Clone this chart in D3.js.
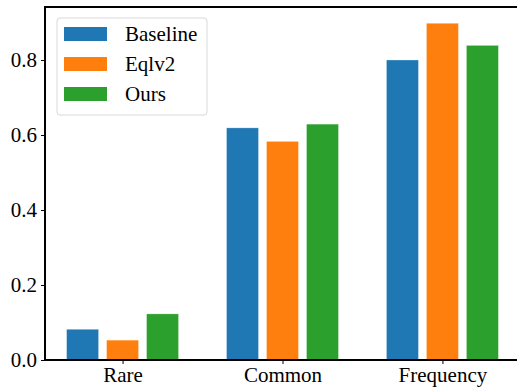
<!DOCTYPE html>
<html>
<head>
<meta charset="utf-8">
<script src="https://cdn.jsdelivr.net/npm/d3@7"></script>
<style>
  body { margin: 0; background: #fff; }
</style>
</head>
<body>
<div id="chart"></div>
<script>
const categories = ["Rare", "Common", "Frequency"];
const seriesNames = ["Baseline", "Eqlv2", "Ours"];
const baseline = [0.082, 0.619, 0.800];
const eqlv2 = [0.053, 0.583, 0.898];
const ours = [0.123, 0.629, 0.839];
const yTicks = [0.0, 0.2, 0.4, 0.6, 0.8];

const colors = ["#1f77b4", "#ff7f0e", "#2ca02c"];
const series = [baseline, eqlv2, ours];
const FONT = "Liberation Serif";

const W = 517, H = 391;
const margin = { top: 7, right: -3, bottom: 31, left: 45 };
const width = W - margin.left - margin.right;
const height = H - margin.top - margin.bottom;

const svg = d3.select("#chart").append("svg")
  .attr("width", W)
  .attr("height", H)
  .style("font-family", FONT);

const g = svg.append("g")
  .attr("transform", `translate(${margin.left},${margin.top})`);

// numeric x like matplotlib: categories at 0,1,2; bars of width 0.2 offset by 0.25
const x = d3.scaleLinear().domain([-0.485, 2.485]).range([0, width]);
const y = d3.scaleLinear().domain([0, 0.9413]).range([height, 0]);
const barW = 0.2;
const offsets = [-0.25, 0, 0.25];

series.forEach((vals, si) => {
  g.selectAll(".bar" + si)
    .data(vals)
    .enter().append("rect")
    .attr("x", (d, i) => x(i + offsets[si] - barW / 2))
    .attr("width", x(barW) - x(0))
    .attr("y", d => y(d))
    .attr("height", d => y(0) - y(d))
    .attr("fill", colors[si])
    .attr("stroke", "#fff")
    .attr("stroke-opacity", 0.5)
    .attr("stroke-width", 0.6);
});

// axes
const yAxis = d3.axisLeft(y).tickValues(yTicks).tickFormat(d3.format(".1f")).tickSize(4).tickPadding(4);
const xAxis = d3.axisBottom(x).tickValues([0, 1, 2]).tickFormat(i => categories[i]).tickSize(4).tickPadding(3);

const ya = g.append("g").call(yAxis);
const xa = g.append("g").attr("transform", `translate(0,${height})`).call(xAxis);

[ya, xa].forEach(a => {
  a.attr("font-family", FONT).attr("font-size", 21);
  a.select(".domain").remove();
  a.selectAll(".tick line").attr("stroke", "#000").attr("stroke-width", 1);
  a.selectAll(".tick text")
    .attr("fill", "#000")
    .attr("font-family", FONT)
    .attr("font-size", 21);
});

// spines
g.append("rect")
  .attr("x", 0).attr("y", 0)
  .attr("width", width).attr("height", height)
  .attr("fill", "none")
  .attr("stroke", "#000")
  .attr("stroke-width", 2);

// legend
const leg = g.append("g").attr("transform", "translate(12,11)");
leg.append("rect")
  .attr("width", 150).attr("height", 97)
  .attr("rx", 3)
  .attr("fill", "#fff")
  .attr("fill-opacity", 0.8)
  .attr("stroke", "#d9d9d9")
  .attr("stroke-width", 1);

seriesNames.forEach((name, i) => {
  const row = leg.append("g").attr("transform", `translate(0,${9 + i * 30})`);
  row.append("rect")
    .attr("x", 7).attr("width", 43).attr("height", 14)
    .attr("fill", colors[i]);
  row.append("text")
    .attr("x", 68).attr("y", 14)
    .attr("font-family", FONT)
    .attr("font-size", 21)
    .attr("fill", "#000")
    .text(name);
});
</script>
</body>
</html>
